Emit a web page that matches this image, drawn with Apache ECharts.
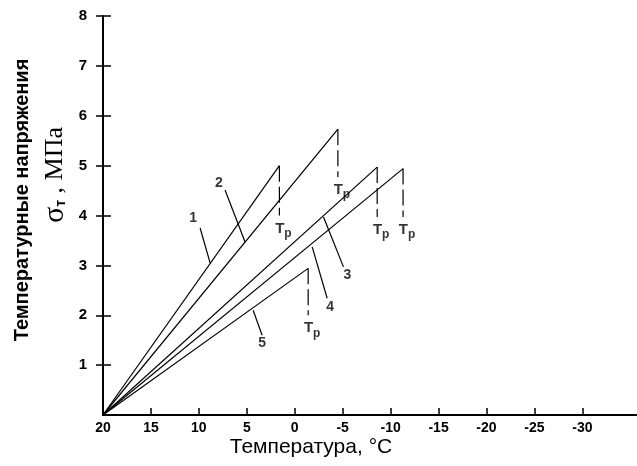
<!DOCTYPE html>
<html><head><meta charset="utf-8">
<script src="https://cdn.jsdelivr.net/npm/echarts@6/dist/echarts.min.js"></script>
<style>html,body{margin:0;padding:0;background:#fff}#c{width:637px;height:466px}</style>
</head><body><div id="c"></div>
<script>
// ---- data ----
const curveIds    = ['1', '2', '3', '4', '5'];
const startTemp   = 20;     // °C, where every curve starts (σ = 0)
const peakTemp    = [1.6, -4.5, -8.6, -11.3, -1.4];   // Tp, °C
const peakStress  = [5.0, 5.73, 4.97, 4.94, 2.94];    // MPa at Tp
const dropStress  = [4.0, 4.77, 3.97, 3.97, 2.0];     // lower end of dashed drop, MPa
const xTicks = [20, 15, 10, 5, 0, -5, -10, -15, -20, -25, -30];
const yTicks = [1, 2, 3, 4, 5, 6, 7, 8];
// curve-number callouts (data coords: [temperature, stress])
const leaderStart = [[9.87, 3.75], [7.27, 4.51], [-3.0, 3.97], [-1.82, 3.37], [4.34, 2.10]];
const leaderEnd   = [[8.83, 3.05], [5.18, 3.47], [-5.08, 2.97], [-3.38, 2.34], [3.4, 1.60]];
const numberPos   = [[10.6, 3.95], [7.9, 4.65], [-5.5, 2.81], [-3.7, 2.16], [3.4, 1.44]];

// ---- chart ----
const FONT = 'Liberation Sans, Arial, sans-serif';
const chart = echarts.init(document.getElementById('c'), null, {renderer: 'canvas'});
const series = [];
curveIds.forEach((id, i) => {
  series.push({
    type: 'line', silent: true, symbol: 'none', animation: false,
    lineStyle: {color: '#000', width: 1.2},
    data: [[startTemp, 0], [peakTemp[i], peakStress[i]]]
  });
  series.push({
    type: 'line', silent: true, symbol: 'none', animation: false,
    lineStyle: {color: '#000', width: 1.2, type: [16, 5]},
    data: [[peakTemp[i], peakStress[i]], [peakTemp[i], dropStress[i]]]
  });
  series.push({
    type: 'line', silent: true, symbol: 'none', animation: false,
    lineStyle: {color: '#000', width: 1.2},
    data: [leaderStart[i], leaderEnd[i]]
  });
});
series.push({
  type: 'scatter', silent: true, symbolSize: 0, animation: false,
  data: peakTemp.map((t, i) => [t, dropStress[i]]),
  label: {
    show: true, position: 'bottom', distance: 2, offset: [4, 0],
    formatter: '{t|T}{p|p}',
    rich: {
      t: {fontFamily: FONT, fontSize: 15, fontWeight: 'bold', color: '#000'},
      p: {fontFamily: FONT, fontSize: 12, fontWeight: 'bold', color: '#000', padding: [10, 0, 0, 0]}
    }
  }
});
series.push({
  type: 'scatter', silent: true, symbolSize: 0, animation: false,
  data: numberPos.map((p, i) => [p[0], p[1], curveIds[i]]),
  label: {
    show: true, position: 'inside',
    formatter: p => p.data[2],
    fontFamily: FONT, fontSize: 14, fontWeight: 'bold', color: '#000'
  }
});

chart.setOption({
  animation: false,
  backgroundColor: '#fff',
  grid: {left: 103, right: 0, top: 16, bottom: 51},
  xAxis: {
    type: 'value', inverse: true, min: -35.7, max: 20,
    axisLine: {show: true, onZero: false, lineStyle: {color: '#000', width: 2}},
    axisTick: {show: true, inside: true, length: 7, customValues: xTicks, lineStyle: {color: '#000', width: 1.5}},
    axisLabel: {customValues: xTicks, margin: 6, color: '#000', fontFamily: FONT, fontSize: 14, fontWeight: 'bold'},
    splitLine: {show: false}
  },
  yAxis: [{
    type: 'value', min: 0, max: 8,
    axisLine: {show: true, onZero: false, lineStyle: {color: '#000', width: 2}},
    axisTick: {show: true, inside: false, length: 7, customValues: yTicks, lineStyle: {color: '#000', width: 1.5}},
    axisLabel: {customValues: yTicks, margin: 16, color: '#000', fontFamily: FONT, fontSize: 15, fontWeight: 'bold'},
    splitLine: {show: false}
  }, {
    type: 'value', min: 0, max: 8, position: 'left', offset: 0,
    axisLine: {show: false, onZero: false},
    axisTick: {show: true, inside: true, length: 8, customValues: yTicks, lineStyle: {color: '#000', width: 1.5}},
    axisLabel: {show: false},
    splitLine: {show: false}
  }],
  graphic: [
    {type: 'text', x: 22, y: 200, rotation: Math.PI / 2,
     style: {text: 'Температурные напряжения', fill: '#000', font: 'bold 20px ' + FONT, align: 'center', verticalAlign: 'middle'}},
    {type: 'text', x: 55, y: 175, rotation: Math.PI / 2,
     style: {text: '{s|σ}{b|т}{m| , МПа}', align: 'center', verticalAlign: 'middle',
       rich: {
         s: {fontFamily: 'Liberation Serif, serif', fontSize: 30, fill: '#000'},
         b: {fontFamily: FONT, fontSize: 14, fontWeight: 'bold', fill: '#000', padding: [12, 0, 0, 0]},
         m: {fontFamily: 'Liberation Serif, serif', fontSize: 26, fill: '#000'}
       }}},
    {type: 'text', x: 311, y: 447,
     style: {text: 'Температура, °C', fill: '#000', font: '21px ' + FONT, align: 'center', verticalAlign: 'middle'}}
  ],
  series: series
});
</script></body></html>
